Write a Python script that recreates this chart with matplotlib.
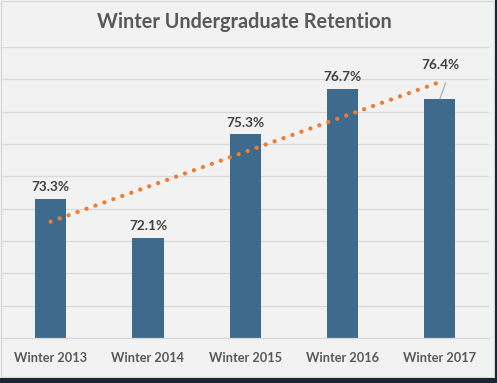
import numpy as np
import matplotlib
matplotlib.use("Agg")
import matplotlib.pyplot as plt
from matplotlib.patches import Rectangle

# chart data
terms = ["Winter 2013", "Winter 2014", "Winter 2015", "Winter 2016", "Winter 2017"]
retention = [73.3, 72.1, 75.3, 76.7, 76.4]
y_min, y_max = 69, 78

plt.rcParams['font.family'] = ['Lato', 'DejaVu Sans']

fig = plt.figure(figsize=(4.97, 3.83), dpi=100)
fig.patch.set_facecolor('#f2f2f2')
ax = fig.add_axes([0.004, 0.1175, 0.979, 0.7595])
ax.set_facecolor('#f2f2f2')

xs = np.arange(1, len(terms) + 1)
ax.bar(xs, [v - y_min for v in retention], bottom=y_min, width=0.32,
       color='#3e6a8e', zorder=2)

# linear trendline, like excel's
slope, icept = np.polyfit(xs, retention, 1)
tx = np.array([xs[0], xs[-1]])
ax.plot(tx, slope * tx + icept, color='#ed7d31', lw=3.1,
        linestyle=(0, (0.01, 2.2)), dash_capstyle='round', zorder=3)

# data labels
for x, v in zip(xs, retention):
    if x == xs[-1]:
        # excel pushed this one up with a leader line
        ax.text(x + 0.01, v + 0.87, "%.1f%%" % v, ha='center', va='bottom',
                fontsize=9.8, fontweight='bold', color='#404040', zorder=4)
        ax.plot([x, x + 0.06], [v, v + 0.5], color='#a6a6a6', lw=0.8, zorder=4)
    else:
        ax.text(x, v + 0.18, "%.1f%%" % v, ha='center', va='bottom',
                fontsize=9.8, fontweight='bold', color='#404040', zorder=4)

ax.set_xlim(0.5, len(terms) + 0.5)
ax.set_ylim(y_min, y_max)
ax.set_yticks(np.arange(y_min, y_max + 1, 1))
ax.yaxis.grid(True, color='#d9d9d9', lw=0.9)
ax.set_axisbelow(True)
ax.set_yticklabels([])
ax.tick_params(axis='y', length=0)
ax.set_xticks(xs)
ax.set_xticklabels(terms, fontsize=9.2, fontweight='bold', color='#595959')
ax.tick_params(axis='x', length=0, pad=10)
for s in ['top', 'left', 'right']:
    ax.spines[s].set_visible(False)
ax.spines['bottom'].set_color('#d9d9d9')
ax.spines['bottom'].set_linewidth(0.9)

fig.text(0.4915, 0.943, "Winter Undergraduate Retention", ha='center', va='center',
         fontsize=14.3, fontweight='bold', color='#595959')

# chart border and the dark screenshot edges
W, H = 497, 383
fig.patches.append(Rectangle((1 / W, 6 / H), 493 / W, 376 / H, transform=fig.transFigure,
                             fill=False, edgecolor='#d9d9d9', lw=0.9))
fig.patches.append(Rectangle((0, 0), 1, 5 / H, transform=fig.transFigure,
                             facecolor='#1c2633', edgecolor='none'))
fig.patches.append(Rectangle((495 / W, 0), 2 / W, 1, transform=fig.transFigure,
                             facecolor='#1c2633', edgecolor='none'))

fig.savefig("out.png", dpi=100, facecolor=fig.get_facecolor())
